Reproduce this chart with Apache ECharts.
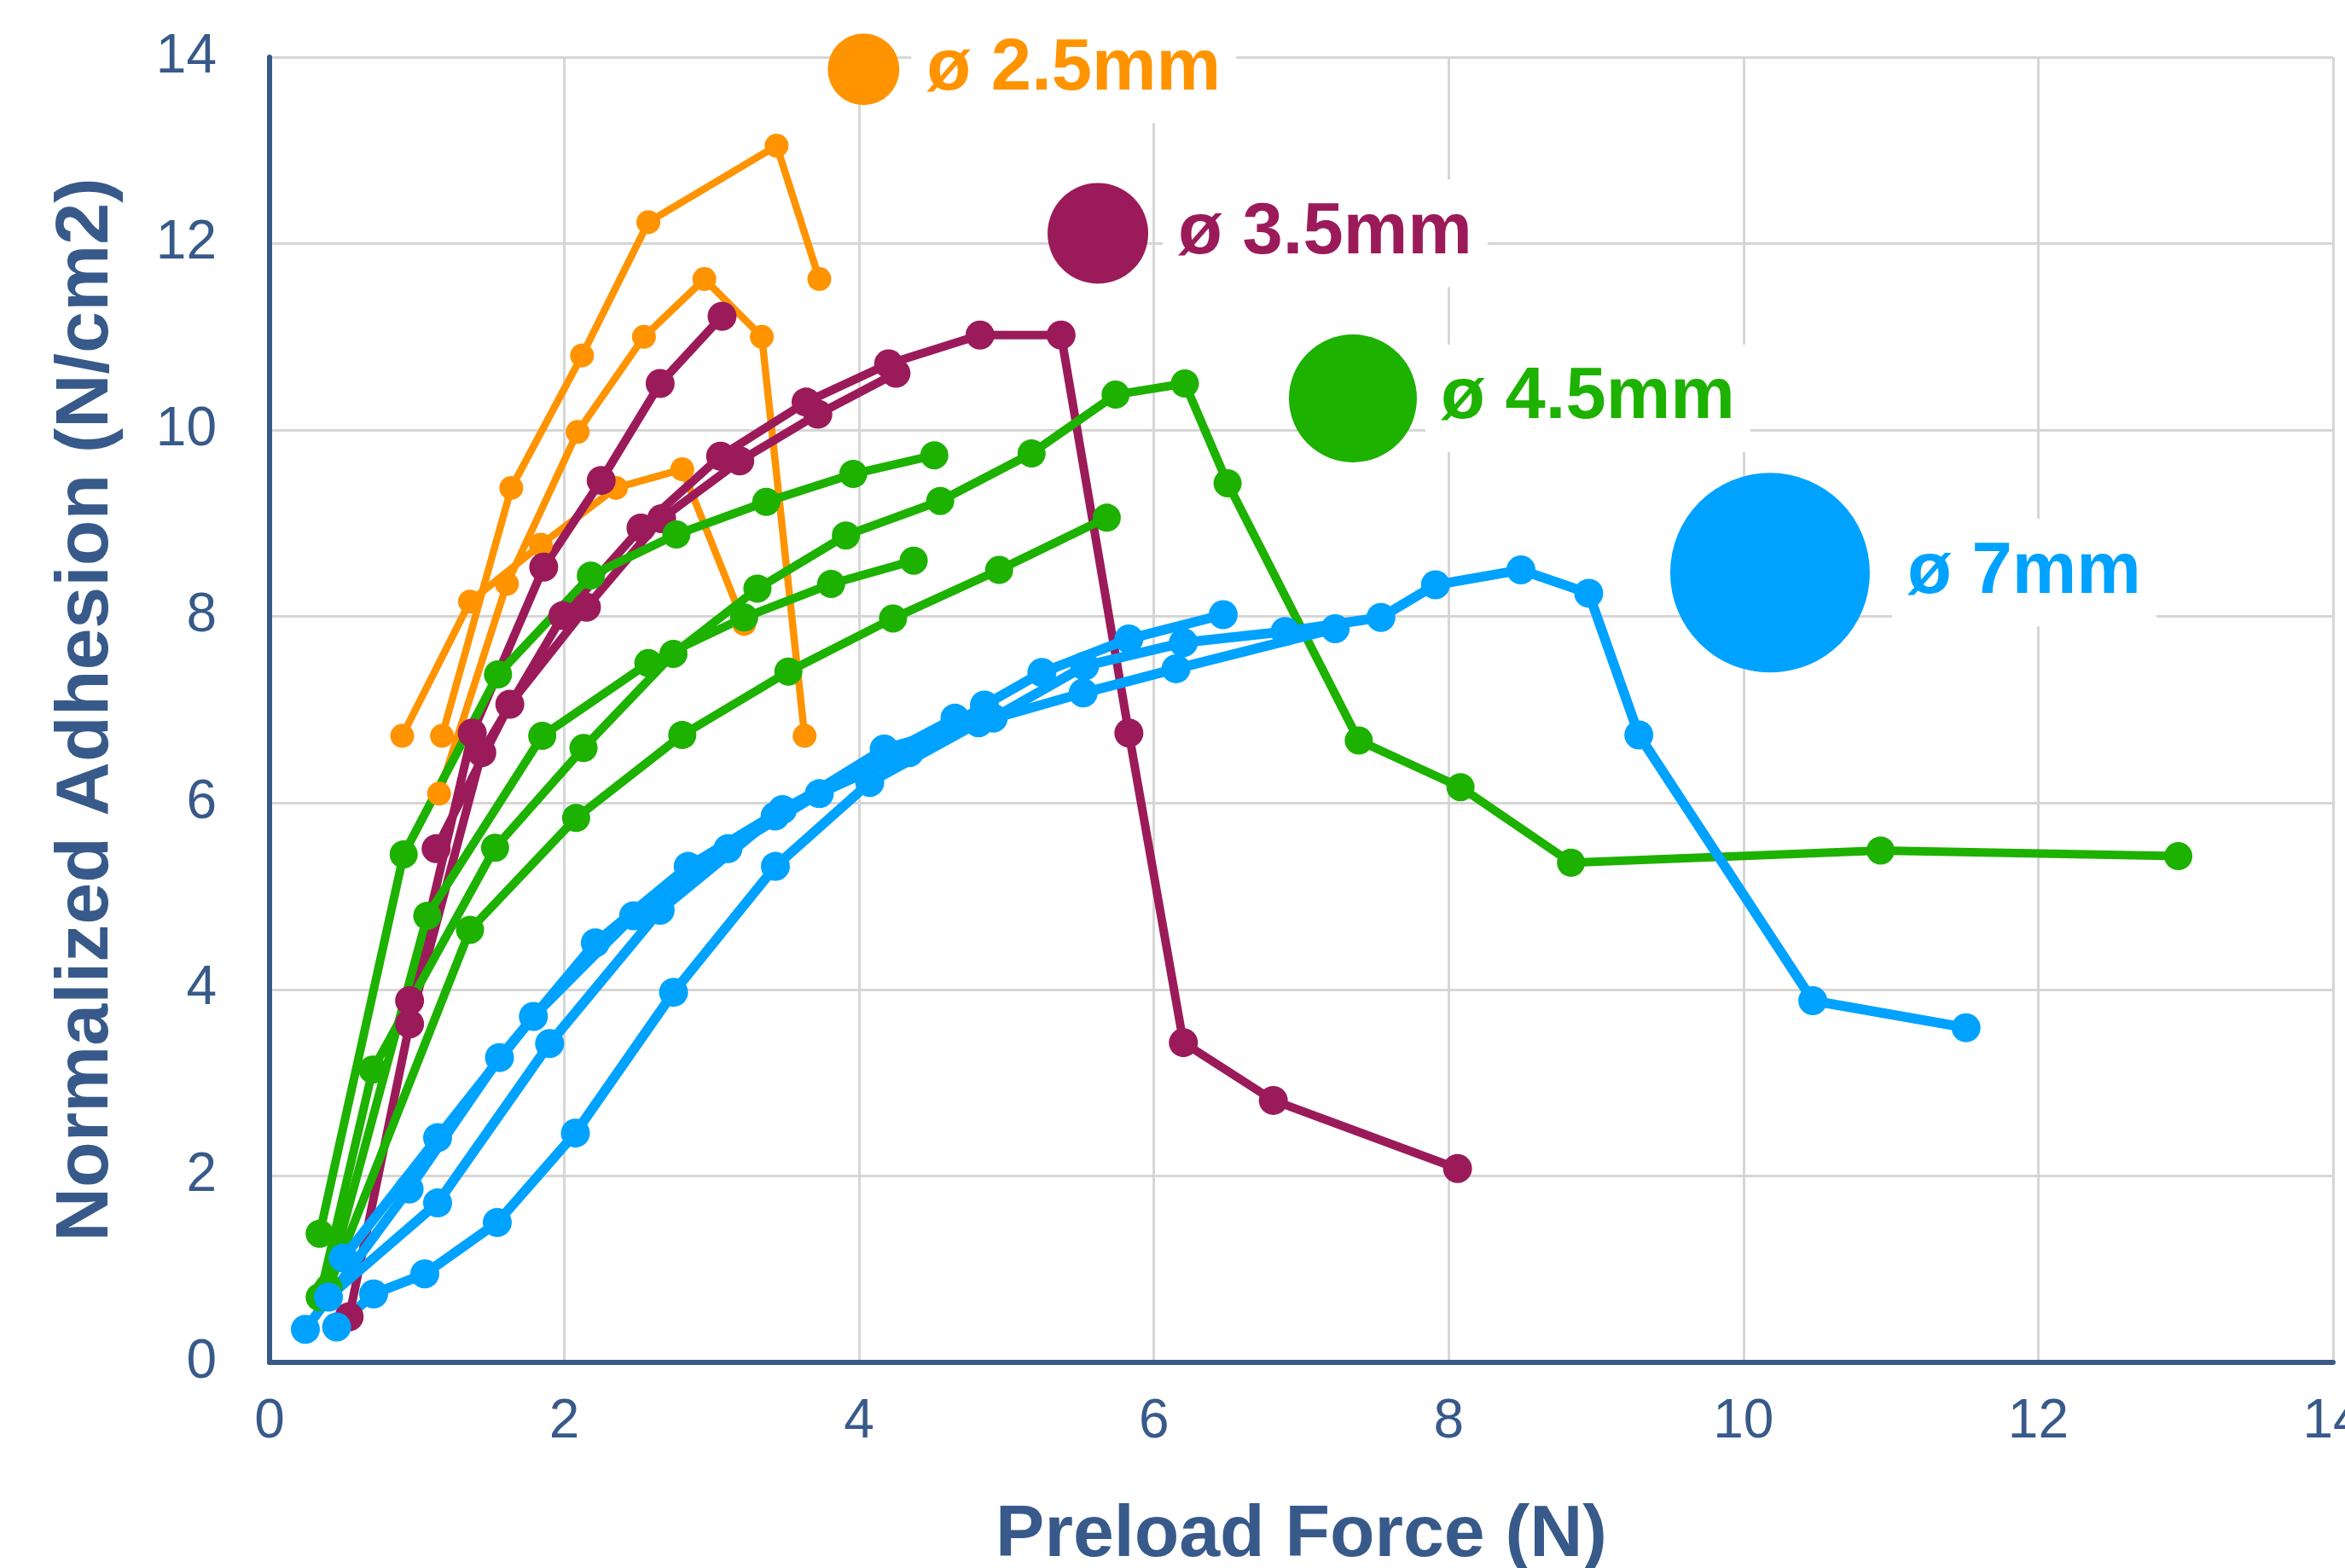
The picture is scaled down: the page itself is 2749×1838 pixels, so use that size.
<!DOCTYPE html>
<html><head><meta charset="utf-8">
<script src="https://cdn.jsdelivr.net/npm/echarts@6/dist/echarts.min.js"></script>
<style>html,body{margin:0;padding:0;background:#fff}#c{width:2749px;height:1838px}</style>
</head><body><div id="c"></div>
<script>
// ---- axis ticks ----
const xTicks = [0, 2, 4, 6, 8, 10, 12, 14];
const yTicks = [0, 2, 4, 6, 8, 10, 12, 14];

// ---- ø 2.5mm (orange) ----
const d25a = [[1.17,6.72],[1.64,9.38],[2.12,10.80],[2.57,12.23],[3.44,13.05],[3.73,11.62]];
const d25b = [[0.90,6.72],[1.36,8.16],[1.84,8.77],[2.35,9.38],[2.80,9.58],[3.22,7.92]];
const d25c = [[1.15,6.10],[1.61,8.35],[2.09,9.98],[2.54,11.00],[2.95,11.62],[3.34,11.00],[3.63,6.72]];

// ---- ø 3.5mm (purple) ----
const d35a = [[0.95,3.88],[1.375,6.75],[1.86,8.53],[2.25,9.46],[2.65,10.50],[3.07,11.22]];
const d35b = [[0.54,0.49],[0.95,3.63],[1.44,6.54],[1.99,8.01],[2.52,8.95],[3.06,9.72],[3.64,10.30],[4.20,10.71],[4.82,11.02],[5.37,11.02],[5.83,6.75],[6.20,3.43],[6.81,2.81],[8.06,2.08]];
const d35c = [[1.13,5.51],[1.63,7.06],[2.15,8.10],[2.66,9.05],[3.19,9.67],[3.72,10.17],[4.25,10.61]];

// ---- ø 4.5mm (green) ----
const d45a = [[0.34,1.38],[0.91,5.45],[1.55,7.38],[2.18,8.44],[2.76,8.88],[3.37,9.23],[3.96,9.53],[4.51,9.73]];
const d45b = [[0.38,0.75],[1.07,4.79],[1.85,6.72],[2.57,7.50],[3.22,7.99],[3.81,8.35],[4.37,8.60]];
const d45c = [[0.34,0.70],[0.70,3.14],[1.53,5.52],[2.13,6.59],[2.74,7.60],[3.31,8.30],[3.91,8.87],[4.55,9.24],[5.17,9.75],[5.74,10.38],[6.21,10.50],[6.50,9.43],[7.39,6.67],[8.08,6.17],[8.83,5.36],[10.93,5.49],[12.95,5.43]];
const d45d = [[0.40,0.80],[1.36,4.64],[2.08,5.84],[2.80,6.73],[3.52,7.41],[4.23,7.98],[4.95,8.50],[5.68,9.06]];

// ---- ø 7mm (blue) ----
const d7a = [[0.455,0.38],[0.706,0.735],[1.053,0.949],[1.545,1.50],[2.075,2.46],[2.741,3.97],[3.432,5.32],[4.072,6.22],[4.81,6.86],[5.52,7.18],[6.15,7.44],[7.23,7.87]];
const d7b = [[0.40,0.70],[1.14,1.71],[1.90,3.42],[2.65,4.85],[3.43,5.86],[4.17,6.58],[4.91,6.91],[5.53,7.47],[6.20,7.72],[6.89,7.84],[7.54,7.99],[7.91,8.34],[8.49,8.50],[8.95,8.25],[9.29,6.73],[10.47,3.88],[11.51,3.59]];
const d7c = [[0.50,1.12],[1.14,2.41],[1.79,3.71],[2.47,4.79],[3.11,5.51],[3.73,6.10],[4.34,6.54],[4.85,7.05],[5.24,7.40],[5.83,7.76],[6.47,8.02]];
const d7d = [[0.243,0.354],[0.947,1.86],[1.56,3.27],[2.21,4.50],[2.84,5.32],[3.48,5.93],[4.65,6.91]];

// ---- size legend (annotation circles) ----
const legendLabels = ['ø 2.5mm', 'ø 3.5mm', 'ø 4.5mm', 'ø 7mm'];
const legendX = [4.03, 5.62, 7.35, 10.18];
const legendY = [13.87, 12.11, 10.34, 8.47];

const C25 = '#FF9300', C35 = '#9B1B5A', C45 = '#1DB100', C7 = '#00A2FF';
const legendColors = [C25, C35, C45, C7];
const legendDiam = [84, 118, 150, 234];
const legendDist = [14, 17, 10, 26];
const AX = '#385A8A';

function lineSeries(data, color, lw, sym) {
  return {
    type: 'line', data: data, showSymbol: true, symbol: 'circle', symbolSize: sym,
    lineStyle: { color: color, width: lw, opacity: 1 }, itemStyle: { color: color, opacity: 1 },
    emphasis: { disabled: true }, animation: false, z: 3
  };
}

const series = [];
[d25a, d25b, d25c].forEach(d => series.push(lineSeries(d, C25, 8.5, 28)));
[d35a, d35b, d35c].forEach(d => series.push(lineSeries(d, C35, 10, 34)));
[d45a, d45b, d45c, d45d].forEach(d => series.push(lineSeries(d, C45, 10, 33)));
[d7a, d7b, d7c, d7d].forEach(d => series.push(lineSeries(d, C7, 11.5, 34)));

series.push({
  type: 'scatter', animation: false, z: 4,
  data: legendLabels.map((t, i) => ({
    value: [legendX[i], legendY[i]],
    symbolSize: legendDiam[i],
    itemStyle: { color: legendColors[i], opacity: 1 },
    label: {
      show: true, position: 'right', distance: legendDist[i],
      formatter: t, color: legendColors[i],
      fontFamily: 'Liberation Sans', fontWeight: 'bold', fontSize: 85,
      lineHeight: 110, backgroundColor: '#ffffff', padding: [8, 18, 8, 18]
    }
  })),
  emphasis: { disabled: true }
});

const chart = echarts.init(document.getElementById('c'), null, { renderer: 'canvas' });
chart.setOption({
  backgroundColor: '#ffffff',
  animation: false,
  grid: { left: 316, right: 14, top: 67, bottom: 241, containLabel: false, outerBoundsMode: 'none' },
  xAxis: {
    type: 'value', min: xTicks[0], max: xTicks[xTicks.length - 1], interval: 2,
    name: 'Preload Force (N)', nameLocation: 'middle', nameGap: 160,
    nameTextStyle: { color: AX, fontFamily: 'Liberation Sans', fontWeight: 'bold', fontSize: 86 },
    axisLine: { show: true, lineStyle: { color: AX, width: 6 } },
    axisTick: { show: false },
    axisLabel: { color: AX, fontFamily: 'Liberation Sans', fontSize: 64, margin: 38,
      formatter: v => xTicks.indexOf(v) >= 0 ? String(v) : '' },
    splitLine: { show: true, lineStyle: { color: '#D6D6D6', width: 3 } }
  },
  yAxis: {
    type: 'value', min: yTicks[0], max: yTicks[yTicks.length - 1], interval: 2,
    name: 'Normalized Adhesion (N/cm2)', nameLocation: 'middle', nameGap: 170,
    nameTextStyle: { color: AX, fontFamily: 'Liberation Sans', fontWeight: 'bold', fontSize: 88 },
    axisLine: { show: true, lineStyle: { color: AX, width: 6 } },
    axisTick: { show: false },
    axisLabel: { color: AX, fontFamily: 'Liberation Sans', fontSize: 64, margin: 62,
      formatter: v => yTicks.indexOf(v) >= 0 ? String(v) : '' },
    splitLine: { show: true, lineStyle: { color: '#D6D6D6', width: 3 } }
  },
  series: series
});
</script>
</body></html>
